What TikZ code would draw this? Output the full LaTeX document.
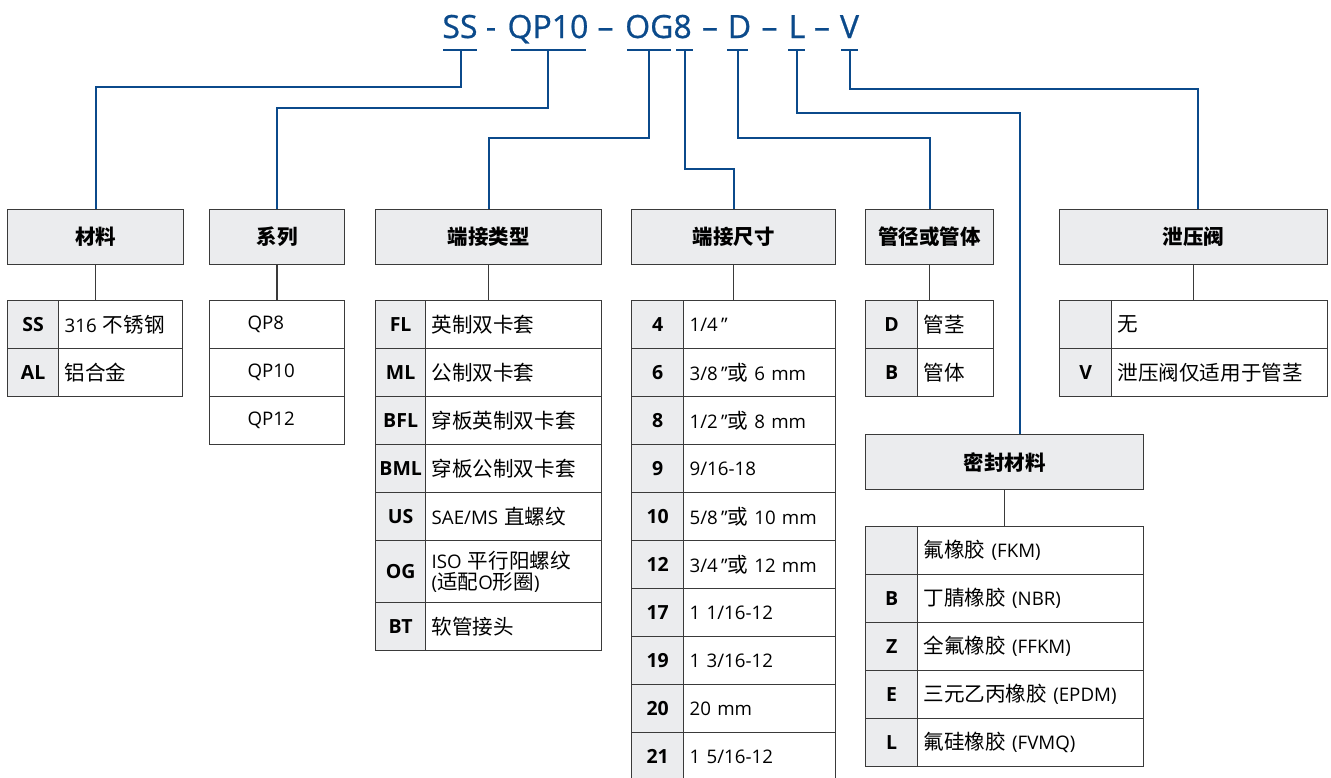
\documentclass[tikz,border=0pt]{standalone}
\usepackage{fontspec}
\setmainfont{Open Sans}
\newfontfamily\cjk{Noto Sans CJK SC}[Scale=1.1]
\newfontfamily\ttlfont{Open Sans}[FakeBold=0.7]
\newcommand{\zh}[1]{{\cjk #1}}
\newcommand{\qt}{\char34\relax}
\definecolor{codeblue}{HTML}{0B4A8B}
\definecolor{framec}{HTML}{3A3A3A}
\definecolor{hfill}{HTML}{EBECEE}
\tikzset{
 hdr/.style={draw=framec, line width=1.3pt, fill=hfill, font=\fontsize{18.6}{20}\selectfont\bfseries\cjk, inner sep=0pt, anchor=north west, minimum height=55pt},
 cellc/.style={draw=framec, line width=1.3pt, fill=hfill, font=\fontsize{19.5}{20}\selectfont\bfseries, inner sep=0pt, anchor=north west, minimum height=48pt},
 cellv/.style={draw=framec, line width=1.3pt, fill=white, font=\fontsize{18.7}{21}\selectfont, inner xsep=6pt, inner ysep=0pt, align=left, anchor=north west, minimum height=48pt},
 bl/.style={draw=codeblue, line width=2pt},
 gl/.style={draw=framec, line width=1.4pt},
 ttl/.style={text=codeblue, font=\fontsize{32}{32}\selectfont\ttlfont, anchor=base, inner sep=0pt},
}
\begin{document}
\begin{tikzpicture}[x=1pt,y=-1pt]
\useasboundingbox (0,0) rectangle (1331,777);
\clip (0,0) rectangle (1331,777);
\fill[white] (0,0) rectangle (1331,777);

% ---------- title ----------
\node[ttl] (tSS) at (460,38) {SS};
\node[ttl] (s1) at (491,38) {-};
\node[ttl] (tQP) at (548,38) {QP10};
\node[ttl] (s2) at (605.5,38) {–};
\node[ttl] (tOG) at (658.5,38) {OG8};
\node[ttl] (s3) at (710,38) {–};
\node[ttl] (tD) at (739.5,38) {D};
\node[ttl] (s4) at (769.5,38) {–};
\node[ttl] (tL) at (797,38) {L};
\node[ttl] (s5) at (822,38) {–};
\node[ttl] (tV) at (849.5,38) {V};

% underlines
\draw[bl] (443,50) -- (477,50);
\draw[bl] (511,50) -- (586,50);
\draw[bl] (627,50) -- (671,50);
\draw[bl] (676,50) -- (693,50);
\draw[bl] (727,50) -- (748,50);
\draw[bl] (788,50) -- (805,50);
\draw[bl] (841,50) -- (858,50);
\coordinate (uSS) at (461,50);
\coordinate (uQP) at (548,50);
\coordinate (uOG) at (649,50);
\coordinate (u8) at (685,50);
\coordinate (uD) at (738,50);
\coordinate (uL) at (797,50);
\coordinate (uV) at (850,50);

% ---------- headers ----------
\node[hdr, minimum width=176pt] (h1) at (7,209) {材料};
\node[hdr, minimum width=135pt] (h2) at (209,209) {系列};
\node[hdr, minimum width=226pt] (h3) at (375,209) {端接类型};
\node[hdr, minimum width=204pt] (h4) at (631,209) {端接尺寸};
\node[hdr, minimum width=128pt] (h5) at (865,209) {管径或管体};
\node[hdr, minimum width=268pt] (h6) at (1059,209) {泄压阀};
\node[hdr, minimum width=278pt] (h7) at (865,434) {密封材料};

% ---------- blue connectors ----------
\draw[bl] (uSS) -- ++(0,37) -| (h1.north);
\draw[bl] (uQP) -- ++(0,58) -| (h2.north);
\draw[bl] (uOG) -- ++(0,88) -| (h3.north);
\draw[bl] (u8) -- ++(0,119) -| (h4.north);
\draw[bl] (uD) -- ++(0,88) -| (h5.north);
\draw[bl] (uL) -- ++(0,63) -| ([xshift=15pt]h7.north);
\draw[bl] (uV) -- ++(0,39) -| ([xshift=4pt]h6.north);

% ---------- table 1: 材料 ----------
\node[cellc, minimum width=51pt] (a1c) at (7,300) {SS};
\node[cellv, text width=112pt] (a1v) at (58,300) {316 \zh{不锈钢}};
\node[cellc, minimum width=51pt] (a2c) at (7,348) {AL};
\node[cellv, text width=112pt] (a2v) at (58,348) {\zh{铝合金}};

% ---------- table 2: 系列 ----------
\node[cellv, inner xsep=38pt, text width=59pt] (b1) at (209,300) {QP8};
\node[cellv, inner xsep=38pt, text width=59pt] (b2) at (209,348) {QP10};
\node[cellv, inner xsep=38pt, text width=59pt] (b3) at (209,396) {QP12};

% ---------- table 3: 端接类型 ----------
\node[cellc, minimum width=50pt] (c1c) at (375,300) {FL};
\node[cellv, text width=164pt] (c1v) at (425,300) {\zh{英制双卡套}};
\node[cellc, minimum width=50pt] (c2c) at (375,348) {ML};
\node[cellv, text width=164pt] (c2v) at (425,348) {\zh{公制双卡套}};
\node[cellc, minimum width=50pt] (c3c) at (375,396) {BFL};
\node[cellv, text width=164pt] (c3v) at (425,396) {\zh{穿板英制双卡套}};
\node[cellc, minimum width=50pt] (c4c) at (375,444) {BML};
\node[cellv, text width=164pt] (c4v) at (425,444) {\zh{穿板公制双卡套}};
\node[cellc, minimum width=50pt] (c5c) at (375,492) {US};
\node[cellv, text width=164pt] (c5v) at (425,492) {SAE/MS \zh{直螺纹}};
\node[cellc, minimum width=50pt, minimum height=62pt] (c6c) at (375,540) {OG};
\node[cellv, text width=164pt, minimum height=62pt, font=\fontsize{18.7}{21}\selectfont] (c6v) at (425,540) {ISO \zh{平行阳螺纹}\\(\zh{适配}O\zh{形圈})};
\node[cellc, minimum width=50pt] (c7c) at (375,602) {BT};
\node[cellv, text width=164pt] (c7v) at (425,602) {\zh{软管接头}};

% ---------- table 4: 端接尺寸 ----------
\foreach \k/\cd/\vl in {0/4/{1/4\,\qt},1/6/{3/8\,\qt\zh{或} 6 mm},2/8/{1/2\,\qt\zh{或} 8 mm},3/9/{9/16-18},4/10/{5/8\,\qt\zh{或} 10 mm},5/12/{3/4\,\qt\zh{或} 12 mm},6/17/{1 1/16-12},7/19/{1 3/16-12},8/20/{20 mm},9/21/{1 5/16-12}}{
  \node[cellc, minimum width=52pt] (d\k c) at (631,{300+48*\k}) {\cd};
  \node[cellv, text width=140pt] (d\k v) at (683,{300+48*\k}) {\vl};
}

% ---------- table 5: 管径或管体 ----------
\node[cellc, minimum width=52pt] (e1c) at (865,300) {D};
\node[cellv, text width=64pt] (e1v) at (917,300) {\zh{管茎}};
\node[cellc, minimum width=52pt] (e2c) at (865,348) {B};
\node[cellv, text width=64pt] (e2v) at (917,348) {\zh{管体}};

% ---------- table 6: 泄压阀 ----------
\node[cellc, minimum width=52pt] (f1c) at (1059,300) {};
\node[cellv, text width=204pt] (f1v) at (1111,300) {\zh{无}};
\node[cellc, minimum width=52pt] (f2c) at (1059,348) {V};
\node[cellv, text width=204pt] (f2v) at (1111,348) {\zh{泄压阀仅适用于管茎}};

% ---------- table 7: 密封材料 ----------
\node[cellc, minimum width=52pt] (g1c) at (865,526) {};
\node[cellv, text width=214pt] (g1v) at (917,526) {\zh{氟橡胶} (FKM)};
\node[cellc, minimum width=52pt] (g2c) at (865,574) {B};
\node[cellv, text width=214pt] (g2v) at (917,574) {\zh{丁腈橡胶} (NBR)};
\node[cellc, minimum width=52pt] (g3c) at (865,622) {Z};
\node[cellv, text width=214pt] (g3v) at (917,622) {\zh{全氟橡胶} (FFKM)};
\node[cellc, minimum width=52pt] (g4c) at (865,670) {E};
\node[cellv, text width=214pt] (g4v) at (917,670) {\zh{三元乙丙橡胶} (EPDM)};
\node[cellc, minimum width=52pt] (g5c) at (865,718) {L};
\node[cellv, text width=214pt] (g5v) at (917,718) {\zh{氟硅橡胶} (FVMQ)};

% ---------- grey connectors header -> table ----------
\draw[gl] (h1.south) -- (h1.south |- a1v.north);
\draw[gl] (h2.south) -- (b1.north);
\draw[gl] (h3.south) -- (h3.south |- c1v.north);
\draw[gl] (h4.south) -- (h4.south |- d0v.north);
\draw[gl] (h5.south) -- (h5.south |- e1v.north);
\draw[gl] (h6.south) -- (h6.south |- f1v.north);
\draw[gl] (h7.south) -- (h7.south |- g1v.north);
\end{tikzpicture}
\end{document}
